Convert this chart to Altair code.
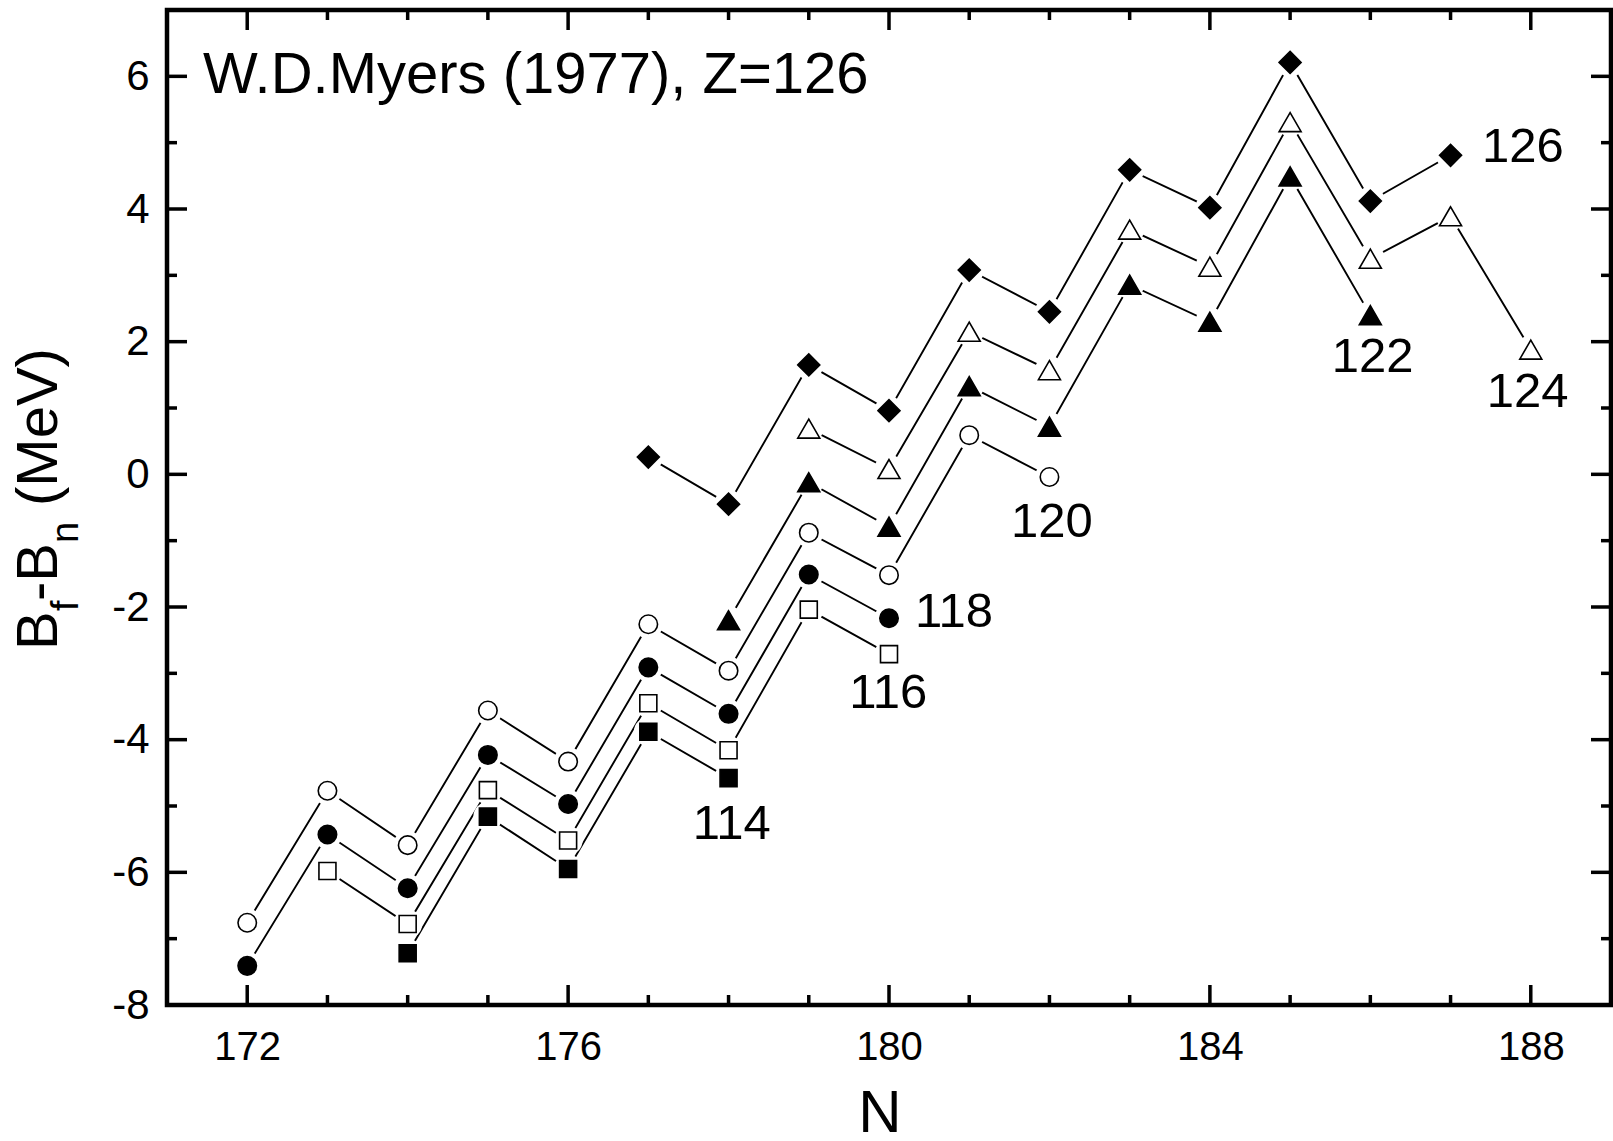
import altair as alt
import pandas as pd

# ---------------- data ----------------
N114 = [174, 175, 176, 177, 178]
B114 = [-7.22, -5.16, -5.95, -3.88, -4.58]

N116 = [173, 174, 175, 176, 177, 178, 179, 180]
B116 = [-5.98, -6.78, -4.76, -5.52, -3.45, -4.16, -2.04, -2.71]

N118 = [172, 173, 174, 175, 176, 177, 178, 179, 180]
B118 = [-7.41, -5.43, -6.24, -4.23, -4.97, -2.91, -3.61, -1.51, -2.17]

N120 = [172, 173, 174, 175, 176, 177, 178, 179, 180, 181, 182]
B120 = [-6.76, -4.77, -5.59, -3.56, -4.33, -2.26, -2.96, -0.88, -1.52, 0.59, -0.04]

N122 = [178, 179, 180, 181, 182, 183, 184, 185, 186]
B122 = [-2.20, -0.12, -0.79, 1.33, 0.72, 2.86, 2.30, 4.49, 2.40]

N124 = [179, 180, 181, 182, 183, 184, 185, 186, 187, 188]
B124 = [0.69, 0.08, 2.15, 1.57, 3.69, 3.13, 5.31, 3.25, 3.89, 1.88]

N126 = [177, 178, 179, 180, 181, 182, 183, 184, 185, 186, 187]
B126 = [0.26, -0.45, 1.65, 0.96, 3.08, 2.45, 4.59, 4.02, 6.21, 4.12, 4.81]

Z_LABELS = ["114", "116", "118", "120", "122", "124", "126"]
LABEL_N = [178.04, 179.99, 180.81, 182.03, 186.03, 187.96, 187.90]
LABEL_B = [-5.49, -3.53, -2.30, -0.95, 1.54, 1.01, 4.71]

X_MAJOR = [172, 176, 180, 184, 188]
X_MINOR = [173, 174, 175, 177, 178, 179, 181, 182, 183, 185, 186, 187]
Y_MAJOR = [-8, -6, -4, -2, 0, 2, 4, 6]
Y_MINOR = [-7, -5, -3, -1, 1, 3, 5]

TITLE_TEXT = "W.D.Myers (1977), Z=126"

# ---------------- build tables ----------------
series = [
    ("114", N114, B114, "square", "black", 289),
    ("116", N116, B116, "square", "white", 289),
    ("118", N118, B118, "circle", "black", 340),
    ("120", N120, B120, "circle", "white", 340),
    ("122", N122, B122, "triangle-up", "black", 484),
    ("124", N124, B124, "triangle-up", "white", 484),
    ("126", N126, B126, "diamond", "black", 484),
]
rows = []
for z, ns, bs, *_ in series:
    for n, b in zip(ns, bs):
        rows.append({"Z": z, "N": n, "B": b})
df = pd.DataFrame(rows)

labels_df = pd.DataFrame({"N": LABEL_N, "B": LABEL_B, "txt": Z_LABELS})

FONT = "Liberation Sans"
W, H = 1444, 995

xs = alt.Scale(domain=[171, 189], nice=False, zero=False)
ys = alt.Scale(domain=[-8, 7], nice=False, zero=False)

xaxis = alt.Axis(values=X_MAJOR, title=None, grid=False, ticks=False, tickSize=0,
                 domain=False, labelFont=FONT, labelFontSize=40, labelColor="black",
                 labelPadding=54, labelBaseline="alphabetic", labelAngle=0,
                 labelFlush=False, labelOverlap=False, labelExpr="'' + datum.value")
yaxis = alt.Axis(values=Y_MAJOR, title=None, grid=False, ticks=False, tickSize=0,
                 domain=False, labelFont=FONT, labelFontSize=42, labelColor="black",
                 labelPadding=18, labelFlush=False, labelOverlap=False,
                 labelExpr="'' + datum.value")

# identical axis definitions in every layer so that they merge cleanly
X = alt.X("N:Q", scale=xs, axis=xaxis)
Y = alt.Y("B:Q", scale=ys, axis=yaxis)

layers = []

# connecting lines
layers.append(
    alt.Chart(df).mark_line(color="black", strokeWidth=1.9).encode(
        x=X, y=Y, detail="Z:N", order=alt.Order("N:Q")
    )
)
# white halos that open a small gap between lines and symbols
layers.append(
    alt.Chart(df).mark_point(shape="circle", filled=True, fill="white",
                             opacity=1, strokeWidth=0, size=841).encode(x=X, y=Y)
)
# symbols
for z, ns, bs, shape, fill, size in series:
    sub = df[df["Z"] == z]
    layers.append(
        alt.Chart(sub).mark_point(shape=shape, filled=True, fill=fill, stroke="black",
                                  strokeWidth=1.6, opacity=1, size=size).encode(x=X, y=Y)
    )

# series labels
layers.append(
    alt.Chart(labels_df).mark_text(font=FONT, fontSize=49, color="black",
                                   align="center", baseline="alphabetic").encode(
        x=X, y=Y, text="txt:N"
    )
)


# inward ticks
def xticks(vals, length):
    d = pd.DataFrame({"N": vals})
    bot = alt.Chart(d).mark_rule(color="black", strokeWidth=3.5).encode(
        x=X, y=alt.value(H), y2=alt.value(H - length))
    top = alt.Chart(d).mark_rule(color="black", strokeWidth=3.5).encode(
        x=X, y=alt.value(0), y2=alt.value(length))
    return [bot, top]


def yticks(vals, length):
    d = pd.DataFrame({"B": vals})
    left = alt.Chart(d).mark_rule(color="black", strokeWidth=3.5).encode(
        y=Y, x=alt.value(0), x2=alt.value(length))
    right = alt.Chart(d).mark_rule(color="black", strokeWidth=3.5).encode(
        y=Y, x=alt.value(W), x2=alt.value(W - length))
    return [left, right]


layers += xticks(X_MAJOR, 20) + xticks(X_MINOR, 10)
layers += yticks(Y_MAJOR, 20) + yticks(Y_MINOR, 10)

one = pd.DataFrame({"a": [0]})


def text_at(txt, x, y, size, angle=0, align="left"):
    kw = dict(text=txt, font=FONT, fontSize=size, color="black", align=align,
              baseline="alphabetic")
    if angle:
        kw["angle"] = angle
    return alt.Chart(one).mark_text(**kw).encode(x=alt.value(x), y=alt.value(y))


# in-plot title
layers.append(text_at(TITLE_TEXT, 36, 83, 58))
# x axis title
layers.append(text_at("N", 713, 1122, 60, align="center"))
# y axis title with subscripts (rotated, reading upwards)
layers.append(text_at("B", -110, 640, 58, angle=270))
layers.append(text_at("f", -89, 601, 38, angle=270))
layers.append(text_at("-B", -110, 591, 58, angle=270))
layers.append(text_at("n", -89, 533, 38, angle=270))
layers.append(text_at("(MeV)", -110, 496, 58, angle=270))

chart = alt.layer(*layers).properties(
    width=W, height=H,
    autosize=alt.AutoSizeParams(type="none"),
    padding={"left": 167, "top": 10, "right": 2, "bottom": 136},
    background="white",
).configure_view(stroke="black", strokeWidth=4.5)

chart.save("out.html", embed_options={"renderer": "svg", "actions": False})
